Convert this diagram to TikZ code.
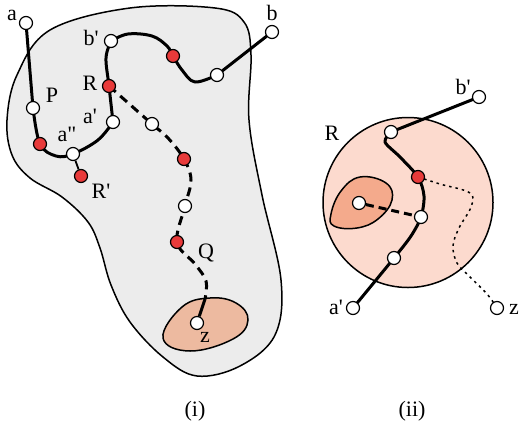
\documentclass[tikz,border=0pt]{standalone}
\usepackage{fontspec}
\setmainfont{Liberation Serif}
\pgfdeclarelayer{back}
\pgfdeclarelayer{mid}
\pgfsetlayers{back,mid,main}
\definecolor{blobgrey}{RGB}{236,236,236}
\definecolor{nodered}{RGB}{232,58,58}
\definecolor{salmon}{RGB}{237,186,160}
\definecolor{pinkdisc}{RGB}{252,218,206}
\definecolor{innersalmon}{RGB}{244,170,140}
\tikzset{
  wn/.style={circle,draw,fill=white,minimum size=13pt,inner sep=0pt,line width=1.2pt},
  rn/.style={circle,draw,fill=nodered,minimum size=13pt,inner sep=0pt,line width=1.2pt},
  lab/.style={font=\fontsize{22}{24}\selectfont,inner sep=0pt},
  thickpath/.style={line width=3pt,line cap=round,line join=round},
  dashpath/.style={line width=3pt,dash pattern=on 9pt off 6pt},
  dotpath/.style={line width=1.5pt,dash pattern=on 2.5pt off 4pt},
  outline/.style={line width=1.5pt}
}
\begin{document}
\begin{tikzpicture}[x=1pt,y=-1pt]
\useasboundingbox (0,0) rectangle (521,429);
% ---------- panel (i) nodes
\node[wn] (a) at (26,23) {};
\node[wn] (P) at (33,108) {};
\node[rn] (r1) at (40,144) {};
\node[wn] (a2) at (73,154) {};
\node[rn] (Rp) at (81,176) {};
\node[wn] (ap) at (113,122) {};
\node[rn] (R) at (109,86) {};
\node[wn] (bp) at (111,41) {};
\node[rn] (r2) at (173,56) {};
\node[wn] (w1) at (217,75) {};
\node[wn] (b) at (272,32) {};
\node[wn] (w2) at (152,124) {};
\node[rn] (r3) at (184,159) {};
\node[wn] (w3) at (185,206) {};
\node[rn] (r4) at (177,242) {};
\node[wn] (z) at (197,323) {};
\coordinate (ze) at (205,299);
% labels (i)
\node[lab] (la) at (12,15) {a};
\node[lab] (lb) at (272,13) {b};
\node[lab] (lbp) at (91,38) {b\textquotesingle};
\node[lab] (lR) at (90,83) {R};
\node[lab] (lP) at (52,95) {P};
\node[lab] (lap) at (90,116) {a\textquotesingle};
\node[lab] (la2) at (67,134) {a\textquotedbl};
\node[lab] (lRp) at (101,191) {R\textquotesingle};
\node[lab] (lQ) at (206,253) {Q};
\node[lab] (lz) at (205,337) {z};
\node[lab] (cap1) at (195,411) {(i)};
% blobs
\begin{pgfonlayer}{back}
\draw[outline,fill=blobgrey] plot[smooth cycle,tension=0.6] coordinates {
 (7,120) (17,75) (50,30) (130,8) (215,8) (244,22) (251,55) (249,120)
 (262,195) (281,280) (275,335) (240,366) (197,376) (163,357) (130,322)
 (111,285) (100,248) (88,222) (62,197) (30,178) (12,155)};
\draw[outline,fill=salmon] plot[smooth cycle,tension=0.7] coordinates {
 (163,338) (190,351) (233,339) (248,320) (236,303) (210,298) (182,307)};
\end{pgfonlayer}
% connectors (i)
\begin{pgfonlayer}{mid}
\draw[thickpath] (a) -- (P);
\draw[thickpath] plot[smooth,tension=0.6] coordinates {(P) (r1) (56,156) (a2) (98,140) (ap)};
\draw[line width=1.8pt] (a2) -- (Rp);
\draw[thickpath] plot[smooth,tension=0.6] coordinates {(ap) (R) (106,58) (bp)};
\draw[thickpath] plot[smooth,tension=0.6] coordinates {(bp) (128,34) (152,36) (167,46) (r2) (182,70) (195,82) (w1)};
\draw[thickpath] (w1) -- (b);
\draw[dashpath] plot[smooth,tension=0.6] coordinates {(R) (w2) (168,138) (r3) (191,180) (w3) (r4) (195,264) (206,281) (ze)};
\draw[line width=3pt] (ze) -- (z);
\end{pgfonlayer}
% ---------- panel (ii)
\node[wn] (bp2) at (479,97) {};
\node[wn] (w4) at (391,132) {};
\node[rn] (r5) at (418,177) {};
\node[wn] (w5) at (421,217) {};
\node[wn] (w6) at (394,258) {};
\node[wn] (ap2) at (353,308) {};
\node[wn] (z2) at (497,308) {};
\node[wn] (wi) at (359,203) {};
\node[lab] (lR2) at (332,133) {R};
\node[lab] (lbp2) at (463,87) {b\textquotesingle};
\node[lab] (lap2) at (336,307) {a\textquotesingle};
\node[lab] (lz2) at (514,309) {z};
\node[lab] (cap2) at (412,411) {(ii)};
\begin{pgfonlayer}{back}
\draw[outline,fill=pinkdisc] (408,202.5) circle[radius=85];
\draw[outline,fill=innersalmon] plot[smooth cycle,tension=0.7] coordinates {
 (360,177) (386,183) (392,200) (378,219) (357,228) (334,226) (331,214) (341,191)};
\end{pgfonlayer}
\begin{pgfonlayer}{mid}
\draw[thickpath] plot[smooth,tension=0.5] coordinates {(ap2) (w6) (411,236) (w5) (424,196) (r5) (400,157) (385,142) (w4)};
\draw[thickpath] (w4) -- (bp2);
\draw[line width=3pt,dash pattern=on 8pt off 5pt] (wi) -- (w5);
\draw[dotpath] plot[smooth,tension=0.6] coordinates {(r5) (440,184) (470,193) (471,207) (459,228) (453,246) (457,263) (468,275) (487,294) (z2)};
\end{pgfonlayer}
\end{tikzpicture}
\end{document}
